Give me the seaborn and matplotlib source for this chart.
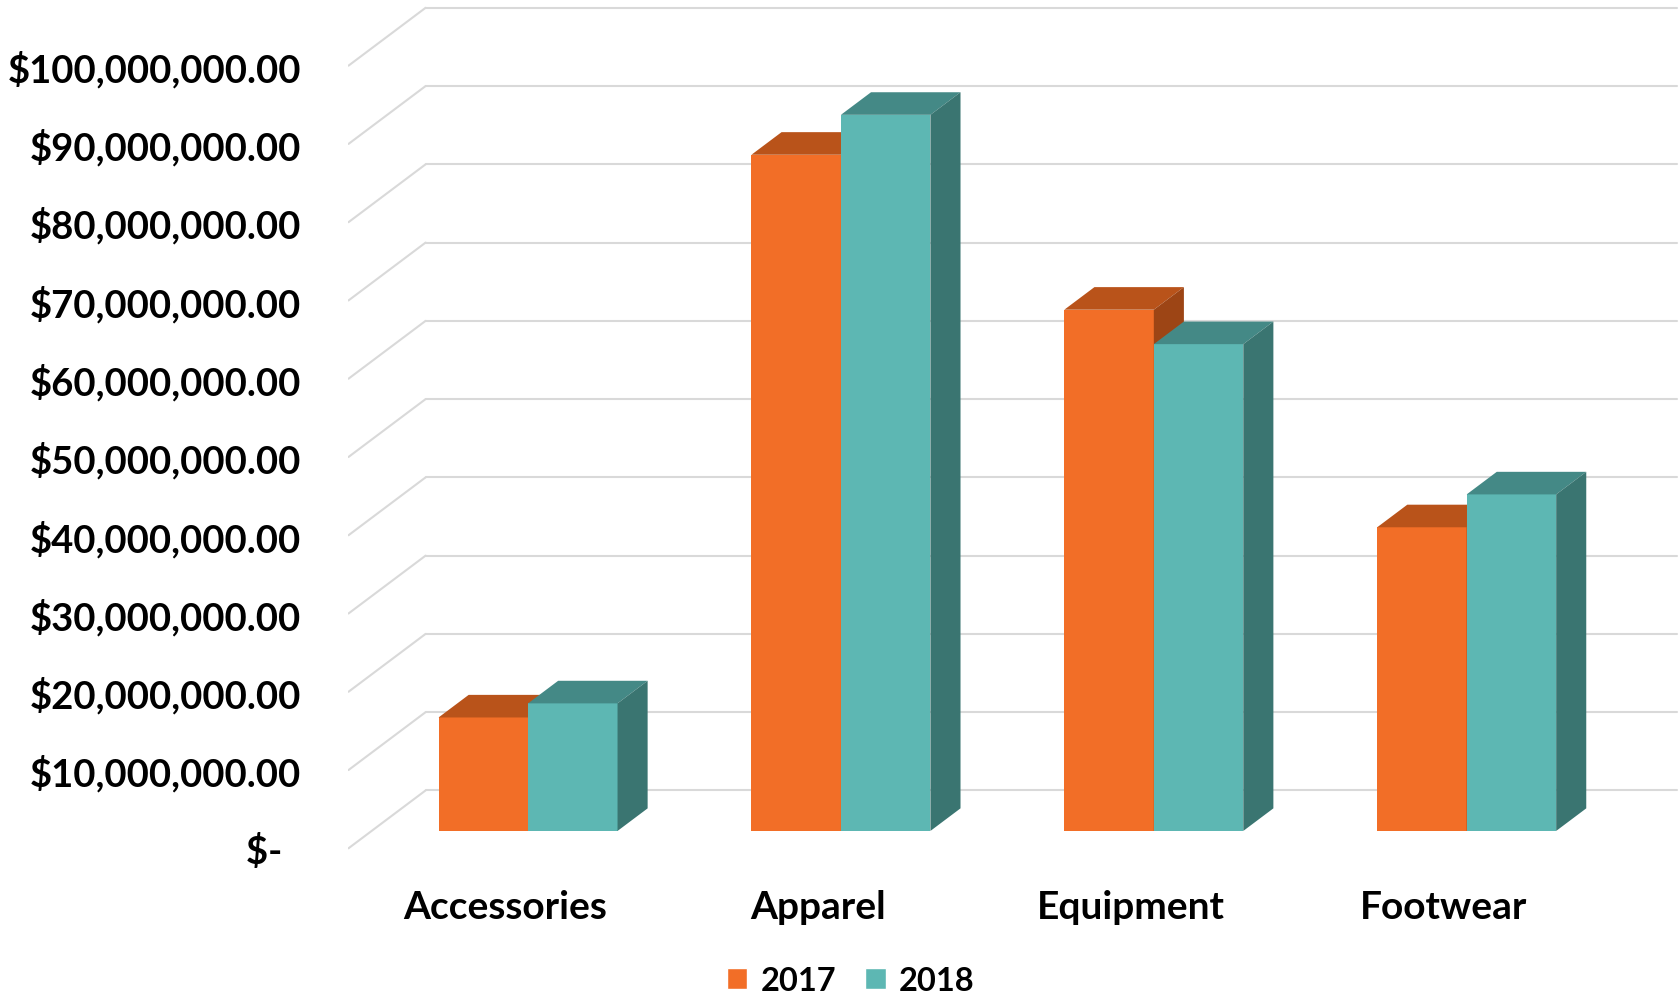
import numpy as np
import pandas as pd
import matplotlib
matplotlib.use('Agg')
import matplotlib.pyplot as plt
from matplotlib.patches import Polygon
import seaborn as sns

# Données
categories = ['Accessories', 'Apparel', 'Equipment', 'Footwear']
years = ['2017', '2018']
sales_2017 = [14.5e6, 86.4e6, 66.6e6, 38.8e6]
sales_2018 = [16.3e6, 91.5e6, 62.2e6, 43.0e6]
tick_values = [i * 10e6 for i in range(11)]

front_colors = ['#F26E27', '#5DB7B3']
top_colors = ['#B9531A', '#448986']
side_colors = ['#9D4515', '#3A7571']

df = pd.DataFrame({
    'category': categories * 2,
    'year': [years[0]] * 4 + [years[1]] * 4,
    'sales': sales_2017 + sales_2018,
})

sns.set_style('white')
plt.rcParams['font.family'] = ['Lato', 'DejaVu Sans']
plt.rcParams['font.weight'] = 'bold'
plt.rcParams['text.color'] = 'black'
plt.rcParams['xtick.color'] = 'black'
plt.rcParams['ytick.color'] = 'black'

fig = plt.figure(figsize=(16.81, 9.95), dpi=100)
ax = fig.add_axes([0.2073, 0.138, 0.7927, 0.862])

# Profondeur de la "3D" : vecteur du sol complet, en unités de données
DX, DY = 0.2466, 7.4e6
front_f, bar_f = 0.3, 0.39

sns.barplot(data=df, x='category', y='sales', hue='year', order=categories,
            hue_order=years, palette=front_colors, width=0.572, gap=0,
            saturation=1, ax=ax)

ax.set_xlim(-0.574, 3.685)
ax.set_ylim(-3.29e6, 106.3e6)

# Grille : mur du fond et mur de gauche
x_front = -0.5 - front_f * DX
x_back = -0.5 + (1 - front_f) * DX
x_right = 3.5 + (1 - front_f) * DX
for v in tick_values:
    yb = v + (1 - front_f) * DY
    ax.plot([x_front, x_back], [v - front_f * DY, yb], color='#D9D9D9', lw=1.5, zorder=0.5)
    ax.plot([x_back, x_right], [yb, yb], color='#D9D9D9', lw=1.5, zorder=0.5)

# Faces du dessus et de côté pour chaque barre
dx, dy = bar_f * DX, bar_f * DY
for k, container in enumerate(ax.containers):
    for bar in container:
        x, w, h = bar.get_x(), bar.get_width(), bar.get_height()
        bar.set_zorder(2 + k)
        bar.set_edgecolor('none')
        top = Polygon([(x, h), (x + w, h), (x + w + dx, h + dy), (x + dx, h + dy)],
                      closed=True, facecolor=top_colors[k], edgecolor='none', zorder=2.1 + k)
        side = Polygon([(x + w, 0), (x + w + dx, dy), (x + w + dx, h + dy), (x + w, h)],
                       closed=True, facecolor=side_colors[k], edgecolor='none', zorder=2.1 + k)
        ax.add_patch(top)
        ax.add_patch(side)

def money(v):
    if v == 0:
        return '$-  '
    return '${:,.2f}'.format(v)

ax.set_yticks([v - front_f * DY for v in tick_values])
ax.set_yticklabels([money(v) for v in tick_values], fontsize=27.5, fontweight='bold')
ax.set_xticks([i - front_f * DX for i in range(len(categories))])
ax.set_xticklabels(categories, fontsize=28, fontweight='bold')
ax.tick_params(axis='y', length=0, pad=34)
ax.tick_params(axis='x', length=0, pad=23)
ax.set_xlabel('')
ax.set_ylabel('')
sns.despine(ax=ax, left=True, bottom=True)

sns.move_legend(ax, 'center', bbox_to_anchor=(0.506, 0.014), bbox_transform=fig.transFigure,
                ncol=2, title=None, frameon=False, fontsize=23.5, handlelength=0.62,
                handleheight=0.62, handletextpad=0.4, columnspacing=0.9)
for t in ax.get_legend().get_texts():
    t.set_fontweight('bold')

fig.savefig('out.png', dpi=100)
